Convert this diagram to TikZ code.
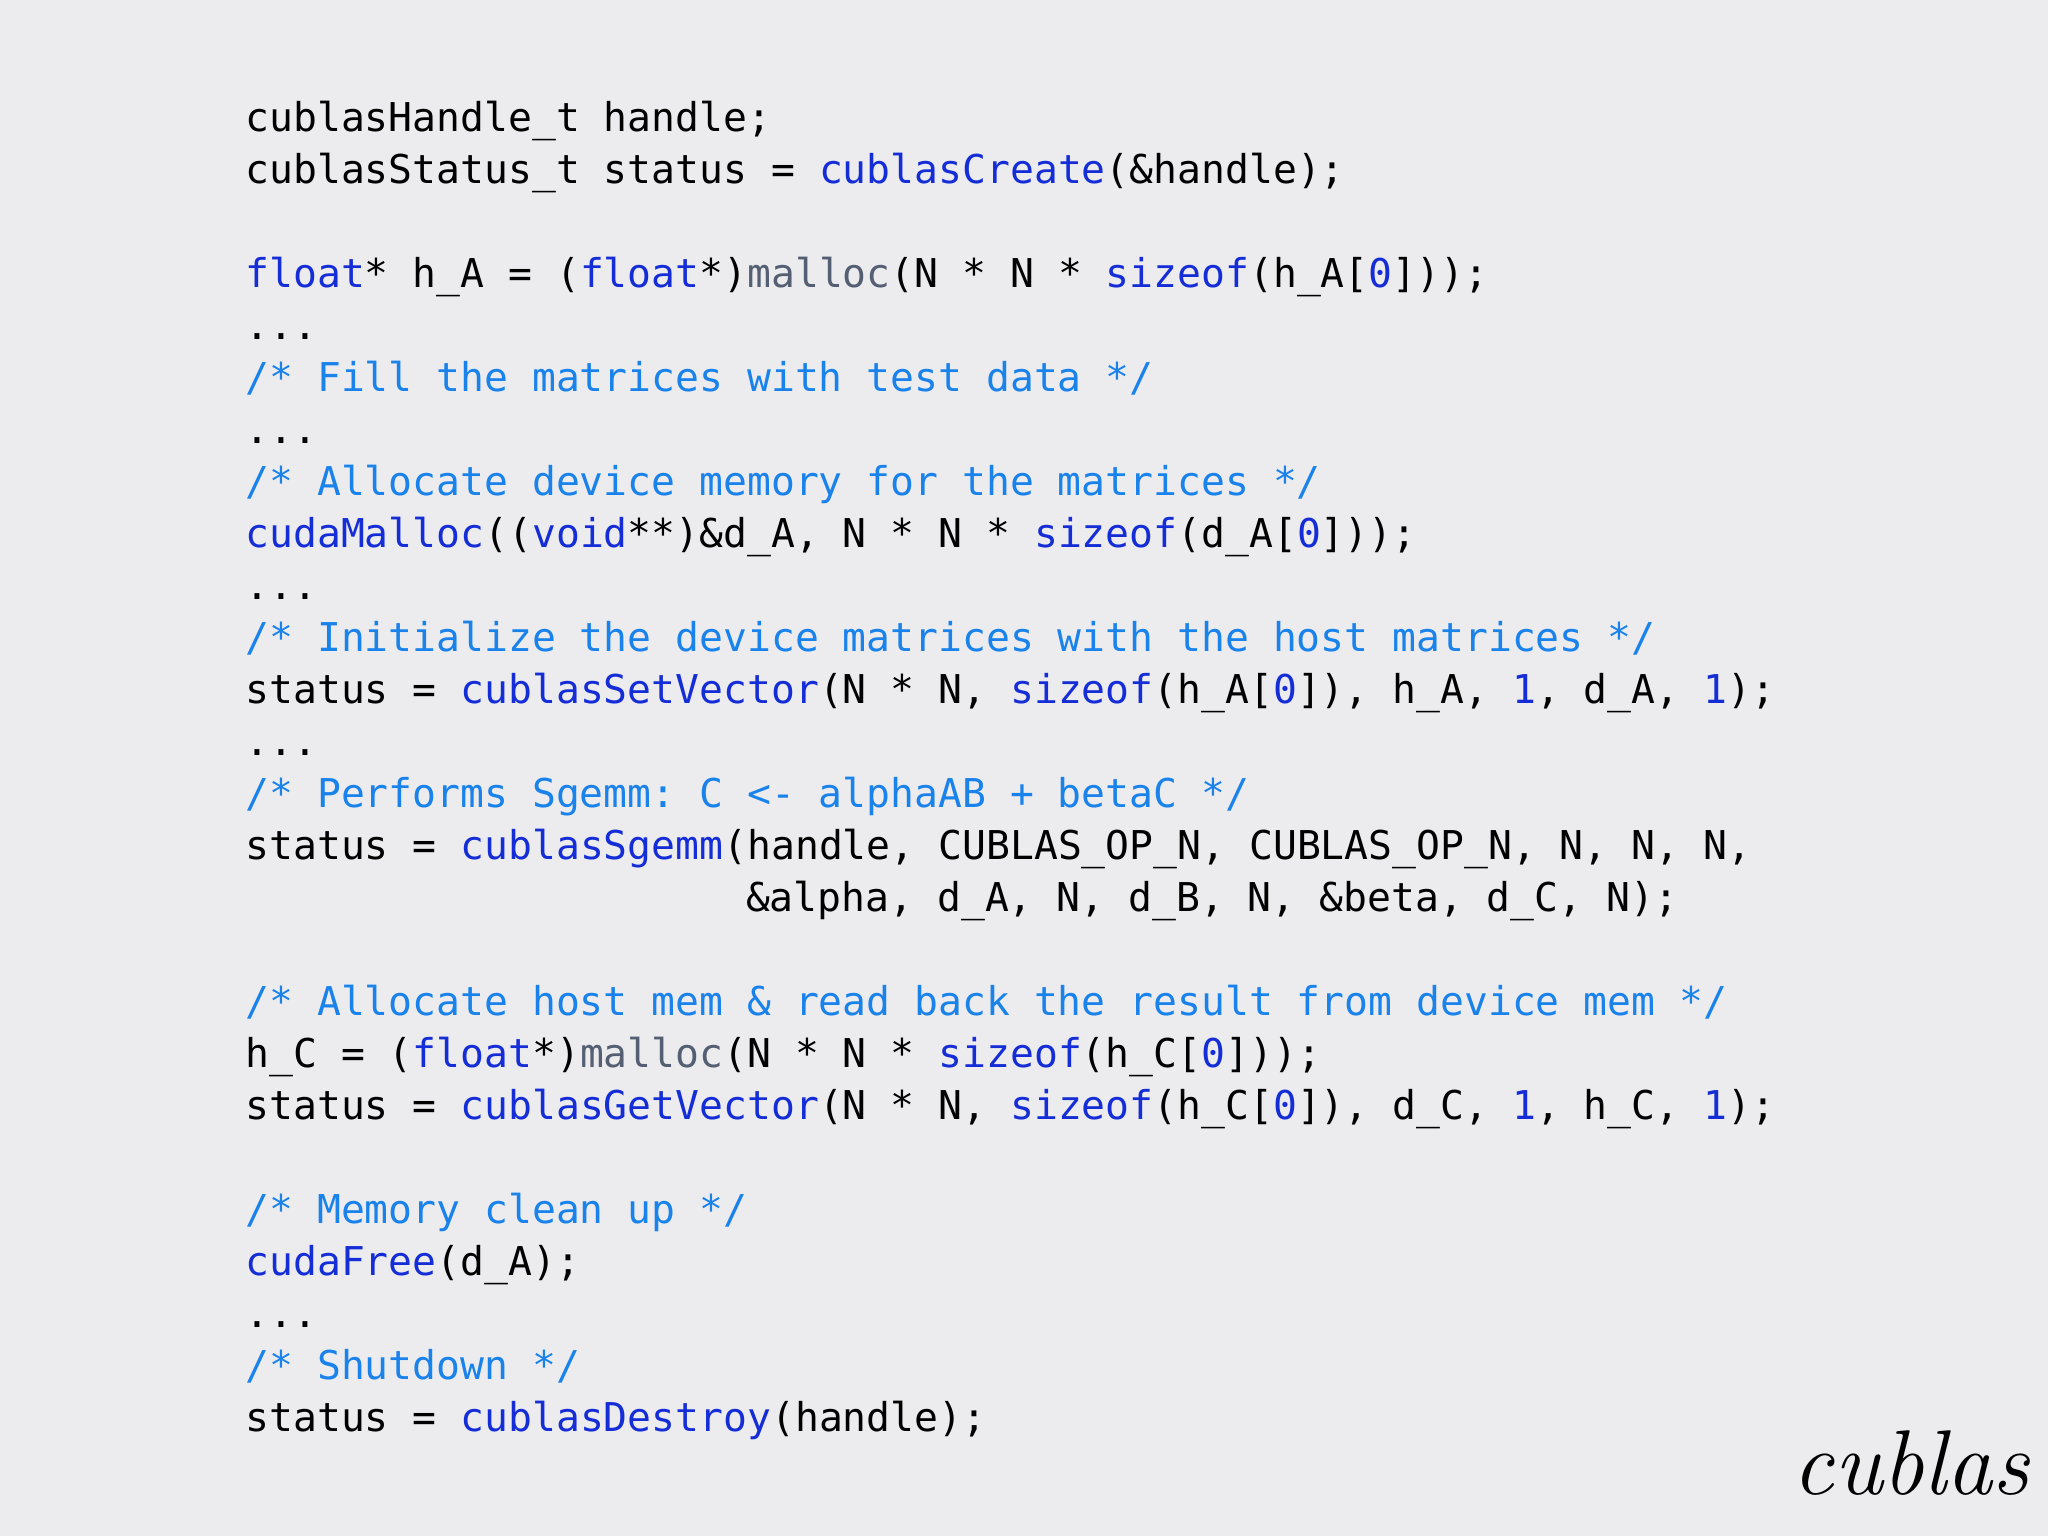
\documentclass[tikz,border=0pt]{standalone}
\usepackage{fontspec}
\setmonofont{DejaVu Sans Mono}
\definecolor{bg}{RGB}{236,236,238}
\definecolor{kwc}{RGB}{20,45,215}
\definecolor{cmc}{RGB}{25,130,235}
\definecolor{mlc}{RGB}{85,95,115}
\newcommand\kw[1]{\textcolor{kwc}{#1}}
\newcommand\cm[1]{\textcolor{cmc}{#1}}
\newcommand\ml[1]{\textcolor{mlc}{#1}}
\begin{document}
\begin{tikzpicture}[x=1pt,y=1pt,
  code/.style={anchor=base west,inner sep=0pt,font=\fontsize{19.85}{24}\ttfamily,text=black}]
\fill[bg] (0,0) rectangle (1024,-768);
\useasboundingbox (0,0) rectangle (1024,-768);
\def\L#1{-65.8-26*#1}
\node[code] (l0) at (122.5,{\L{0}}) {cublasHandle\_t handle;};
\node[code] (l1) at (122.5,{\L{1}}) {cublasStatus\_t status = \kw{cublasCreate}(\&handle);};
\node[code] (l3) at (122.5,{\L{3}}) {\kw{float}* h\_A = (\kw{float}*)\ml{malloc}(N * N * \kw{sizeof}(h\_A[\kw{0}]));};
\node[code] (l4) at (122.5,{\L{4}}) {...};
\node[code] (l5) at (122.5,{\L{5}}) {\cm{/* Fill the matrices with test data */}};
\node[code] (l6) at (122.5,{\L{6}}) {...};
\node[code] (l7) at (122.5,{\L{7}}) {\cm{/* Allocate device memory for the matrices */}};
\node[code] (l8) at (122.5,{\L{8}}) {\kw{cudaMalloc}((\kw{void}**)\&d\_A, N * N * \kw{sizeof}(d\_A[\kw{0}]));};
\node[code] (l9) at (122.5,{\L{9}}) {...};
\node[code] (l10) at (122.5,{\L{10}}) {\cm{/* Initialize the device matrices with the host matrices */}};
\node[code] (l11) at (122.5,{\L{11}}) {status = \kw{cublasSetVector}(N * N, \kw{sizeof}(h\_A[\kw{0}]), h\_A, \kw{1}, d\_A, \kw{1});};
\node[code] (l12) at (122.5,{\L{12}}) {...};
\node[code] (l13) at (122.5,{\L{13}}) {\cm{/* Performs Sgemm: C <- alphaAB + betaC */}};
\node[code] (l14) at (122.5,{\L{14}}) {status = \kw{cublasSgemm}(handle, CUBLAS\_OP\_N, CUBLAS\_OP\_N, N, N, N,};
\node[code] (l15) at (372.8,{\L{15}}) {\&alpha, d\_A, N, d\_B, N, \&beta, d\_C, N);};
\node[code] (l17) at (122.5,{\L{17}}) {\cm{/* Allocate host mem \& read back the result from device mem */}};
\node[code] (l18) at (122.5,{\L{18}}) {h\_C = (\kw{float}*)\ml{malloc}(N * N * \kw{sizeof}(h\_C[\kw{0}]));};
\node[code] (l19) at (122.5,{\L{19}}) {status = \kw{cublasGetVector}(N * N, \kw{sizeof}(h\_C[\kw{0}]), d\_C, \kw{1}, h\_C, \kw{1});};
\node[code] (l21) at (122.5,{\L{21}}) {\cm{/* Memory clean up */}};
\node[code] (l22) at (122.5,{\L{22}}) {\kw{cudaFree}(d\_A);};
\node[code] (l23) at (122.5,{\L{23}}) {...};
\node[code] (l24) at (122.5,{\L{24}}) {\cm{/* Shutdown */}};
\node[code] (l25) at (122.5,{\L{25}}) {status = \kw{cublasDestroy}(handle);};
\node[anchor=base east,inner sep=0pt,font=\fontsize{46}{50}\itshape] (logo) at (1015,-747) {cublas};
\end{tikzpicture}
\end{document}
